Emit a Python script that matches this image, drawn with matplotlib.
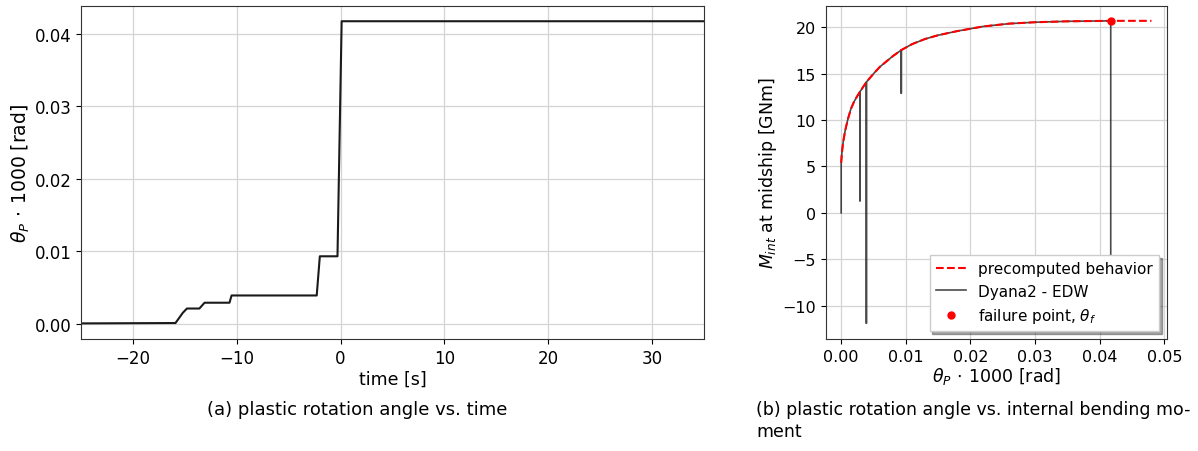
import numpy as np
import matplotlib
matplotlib.use("Agg")
import matplotlib.pyplot as plt

# (a) plastic rotation angle vs time
time_s = [-25, -16, -15.9, -15.2, -14.8, -13.6, -13.1, -10.7, -10.5,
          -2.3, -2.0, -0.3, 0.1, 35]
theta_t = [0.00005, 0.0001, 0.0001, 0.0015, 0.0021, 0.0021, 0.0029, 0.0029, 0.0039,
           0.0039, 0.0093, 0.0093, 0.0417, 0.0417]

# (b) precomputed moment-rotation behaviour
theta_pre = [0.0, 0.0001, 0.0003, 0.0006, 0.001, 0.0015, 0.002, 0.0025, 0.0029, 0.0039,
             0.005, 0.006, 0.008, 0.0093, 0.011, 0.013, 0.015, 0.018, 0.022, 0.026,
             0.030, 0.035, 0.0417, 0.048]
m_pre = [5.4, 6.4, 7.6, 8.8, 10.0, 11.2, 12.0, 12.6, 13.05, 14.1,
         15.0, 15.75, 16.9, 17.55, 18.2, 18.75, 19.15, 19.6, 20.1, 20.4,
         20.55, 20.65, 20.7, 20.7]

# Dyana2 - EDW path (with unloading spikes)
theta_dyn = [0.0, 0.0, 0.0001, 0.0003, 0.0006, 0.001, 0.0015, 0.002, 0.0025,
             0.0029, 0.0029, 0.0029, 0.0039, 0.0039, 0.0039, 0.005, 0.006, 0.008,
             0.0093, 0.0093, 0.0093, 0.011, 0.013, 0.015, 0.018, 0.022, 0.026,
             0.030, 0.035, 0.0417, 0.0417]
m_dyn = [0.0, 5.4, 6.4, 7.6, 8.8, 10.0, 11.2, 12.0, 12.6,
         13.05, 1.3, 13.05, 14.1, -11.9, 14.1, 15.0, 15.75, 16.9,
         17.55, 12.9, 17.55, 18.2, 18.75, 19.15, 19.6, 20.1, 20.4,
         20.55, 20.65, 20.7, -4.7]

theta_fail = [0.0417]
m_fail = [20.7]

fig = plt.figure(figsize=(11.98, 4.52), dpi=100)

ax1 = fig.add_axes([0.0676, 0.2478, 0.5201, 0.7367])
ax1.plot(time_s, theta_t, color="#1a1a1a", lw=1.5)
ax1.set_xlim(-25, 35)
ax1.set_ylim(-0.0021, 0.0438)
ax1.set_yticks([0.0, 0.01, 0.02, 0.03, 0.04])
ax1.grid(True, color="#d4d4d4", lw=0.9)
ax1.set_xlabel("time [s]", fontsize=12.5, labelpad=2)
ax1.set_ylabel(r"$\theta_P\,\cdot\,1000$ [rad]", fontsize=13.5, labelpad=2)
ax1.tick_params(labelsize=12)

ax2 = fig.add_axes([0.6892, 0.2478, 0.2849, 0.7367])
ax2.plot(theta_dyn, m_dyn, color="#2a2a2a", lw=1.2, alpha=0.85, label="Dyana2 - EDW", zorder=2)
ax2.plot(theta_pre, m_pre, "--", color="red", lw=1.5, label="precomputed behavior", zorder=3)
ax2.plot(theta_fail, m_fail, "o", color="red", ms=5, label=r"failure point, $\theta_f$", zorder=4)
ax2.set_ylim(-13.6, 22.3)
ax2.set_xlim(-0.0024, 0.0504)
ax2.set_xticks([0.0, 0.01, 0.02, 0.03, 0.04, 0.05])
ax2.grid(True, color="#d4d4d4", lw=0.9)
ax2.set_xlabel(r"$\theta_P\,\cdot\,1000$ [rad]", fontsize=12.5, labelpad=1)
ax2.set_ylabel(r"$M_{int}$ at midship [GNm]", fontsize=12.5, labelpad=2)
ax2.tick_params(labelsize=11.5)
h, l = ax2.get_legend_handles_labels()
ax2.legend([h[1], h[0], h[2]], [l[1], l[0], l[2]], loc="lower right",
           fontsize=11, shadow=True, fancybox=False, framealpha=1)

for ax in (ax1, ax2):
    for sp in ax.spines.values():
        sp.set_color("#333333")

fig.text(0.298, 0.093, "(a) plastic rotation angle vs. time", fontsize=13, ha="center", va="center")
fig.text(0.631, 0.093, "(b) plastic rotation angle vs. internal bending mo-",
         fontsize=12.5, ha="left", va="center")
fig.text(0.631, 0.044, "ment", fontsize=12.5, ha="left", va="center")

fig.savefig("out.png", dpi=100)
